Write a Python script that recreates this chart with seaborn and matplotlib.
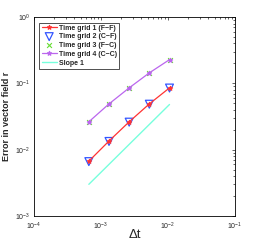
import numpy as np
import pandas as pd
import matplotlib
matplotlib.use("Agg")
import matplotlib.pyplot as plt
import seaborn as sns

# valores
dt = [6.6e-4, 1.32e-3, 2.64e-3, 5.28e-3, 1.056e-2]
err_g1 = [6.7e-3, 1.35e-2, 2.63e-2, 4.9e-2, 8.55e-2]
err_g2 = [6.6e-3, 1.33e-2, 2.6e-2, 4.85e-2, 8.5e-2]
err_g3 = [2.63e-2, 4.9e-2, 8.55e-2, 1.44e-1, 2.28e-1]
err_g4 = [2.63e-2, 4.9e-2, 8.55e-2, 1.44e-1, 2.28e-1]
slope_x = [6.6e-4, 1.056e-2]
slope_y = [3.0e-3, 4.8e-2]

sns.set_style("white")
plt.rcParams['font.family'] = ['Liberation Sans', 'DejaVu Sans']
plt.rcParams['xtick.direction'] = 'in'
plt.rcParams['ytick.direction'] = 'in'

fig = plt.figure(figsize=(2.59, 2.44), dpi=100)
ax = fig.add_axes([0.131, 0.115, 0.776, 0.815])

df1 = pd.DataFrame({'dt': dt, 'err': err_g1})
df2 = pd.DataFrame({'dt': dt, 'err': err_g2})
df3 = pd.DataFrame({'dt': dt, 'err': err_g3})
df4 = pd.DataFrame({'dt': dt, 'err': err_g4})
dfs = pd.DataFrame({'dt': slope_x, 'err': slope_y})

sns.lineplot(data=df1, x='dt', y='err', ax=ax, color='#ff3333', lw=0.9,
             marker='*', markersize=3.5, markeredgecolor='#ff3333', label='Time grid 1 (F\u2212F)')
sns.scatterplot(data=df2, x='dt', y='err', ax=ax, marker='v', s=32, facecolors='none',
                edgecolors='#3355ff', linewidths=0.9, label='Time grid 2 (C\u2212F)')
sns.scatterplot(data=df3, x='dt', y='err', ax=ax, marker='x', s=12, color='#66dd33',
                linewidths=0.8, label='Time grid 3 (F\u2212C)')
sns.lineplot(data=df4, x='dt', y='err', ax=ax, color='#bb66ee', lw=0.9,
             marker='*', markersize=3.5, markeredgecolor='#bb66ee', label='Time grid 4 (C\u2212C)')
sns.lineplot(data=dfs, x='dt', y='err', ax=ax, color='#77ffdd', lw=1.0, label='Slope 1')

ax.set_xscale('log')
ax.set_yscale('log')
ax.set_xlim(1e-4, 1e-1)
ax.set_ylim(1e-3, 1e0)
ax.tick_params(which='both', top=True, right=True, labelsize=5, length=2.5, width=0.5)
ax.tick_params(axis='x', pad=3.2)
ax.tick_params(axis='y', pad=2.5)
ax.tick_params(which='minor', length=1.5)
for s in ax.spines.values():
    s.set_linewidth(0.6)
    s.set_color('black')

ax.set_xlabel('\u0394t', fontsize=9.5, labelpad=-2)
ax.set_ylabel('Error in vector field r', fontsize=6.5, fontweight='bold', labelpad=3)

leg = ax.legend(loc='upper left', fontsize=5, frameon=True, fancybox=False,
                borderpad=0.3, labelspacing=0.25, handlelength=2.2, handletextpad=0.3,
                borderaxespad=0.8)
leg.get_frame().set_edgecolor('black')
leg.get_frame().set_linewidth(0.6)
for t in leg.get_texts():
    t.set_fontweight('bold')

plt.savefig('out.png', dpi=100)
plt.close()
